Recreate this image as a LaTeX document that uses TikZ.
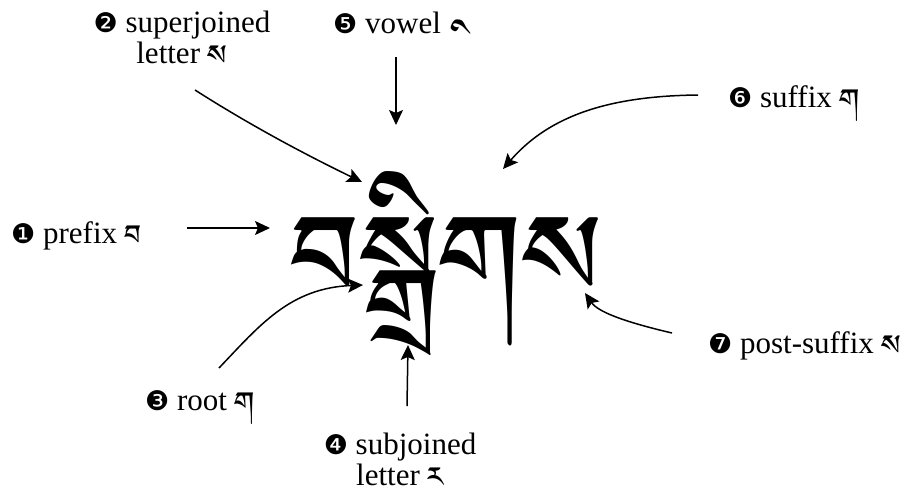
\documentclass[tikz,border=0pt]{standalone}
\usepackage{fontspec}
\setmainfont{Liberation Serif}
\newfontfamily\dingfont{DejaVu Sans}
\IfFontExistsTF{Tibetan Machine Uni}{%
  \newfontfamily\tibfont[Script=Tibetan]{Tibetan Machine Uni}}{%
  \IfFontExistsTF{Jomolhari}{%
    \newfontfamily\tibfont[Script=Tibetan]{Jomolhari}}{%
    \IfFontExistsTF{Qomolangma-Uchen Sarchen}{%
      \newfontfamily\tibfont[Script=Tibetan]{Qomolangma-Uchen Sarchen}}{%
      \newfontfamily\tibfont{DejaVu Sans}}}}
\usetikzlibrary{arrows.meta}
\newcommand{\circnum}[1]{{\dingfont\fontsize{27}{27}\selectfont #1}}
\newcommand{\tibl}[1]{{\tibfont\fontsize{36}{36}\selectfont\raisebox{-9pt}{#1}}}
\newcommand{\tibmark}[1]{{\tibfont\fontsize{48}{48}\selectfont\hspace{18pt}\raisebox{-37pt}{\char"00A0#1}}}

\begin{document}
\begin{tikzpicture}[x=1pt,y=-1pt,
  font=\fontsize{31}{31}\selectfont,
  >={Stealth[length=15pt,width=14pt,inset=3pt]},
  lab/.style={inner sep=0pt, align=center},
  arr/.style={draw=black, line width=1.5pt, ->},
]
\useasboundingbox (0,0) rectangle (911,490);
% ---------------- the word ----------------
\node[inner sep=0pt, anchor=base west, font=\tibfont\fontsize{146}{146}\selectfont] (word) at (290,325) {བསྒྲིགས};
% ---------------- labels ----------------
\node[lab, anchor=base west] (lpre) at (11,243) {\circnum{❶} prefix \tibl{བ}};
\node[lab, anchor=base] (lsup) at (182,63) {\circnum{❷} superjoined\\letter \tibl{ས}};
\node[lab, anchor=base west] (lvow) at (333,33) {\circnum{❺} vowel\tibmark{ི}};
\node[lab, anchor=base west] (lsuf) at (728,107) {\circnum{❻} suffix \tibl{ག}};
\node[lab, anchor=base west] (lroot) at (145,410) {\circnum{❸} root \tibl{ག}};
\node[lab, anchor=base] (lsub) at (400,485) {\circnum{❹} subjoined\\letter \tibl{ར}};
\node[lab, anchor=base west] (lpost) at (708,353) {\circnum{❼} post-suffix \tibl{ས}};
% ---------------- arrow ends ----------------
\coordinate (spre) at (187,228);  \coordinate (tpre) at (270,228);
\coordinate (ssup) at (195,90);   \coordinate (tsup) at (362,182);
\coordinate (svow) at (396,57);   \coordinate (tvow) at (396,125);
\coordinate (ssuf) at (698,95);   \coordinate (tsuf) at (503,169);
\coordinate (sroot) at (219,368); \coordinate (troot) at (363,285);
\coordinate (ssub) at (407,406);  \coordinate (tsub) at (408,345);
\coordinate (spost) at (672,333); \coordinate (tpost) at (585,293);
\draw[arr] (spre) -- (tpre);
\draw[arr] (ssup) .. controls (245,122) and (300,152) .. (tsup);
\draw[arr] (svow) -- (tvow);
\draw[arr] (ssuf) .. controls (610,96) and (550,115) .. (tsuf);
\draw[arr] (sroot) .. controls (260,325) and (290,288) .. (troot);
\draw[arr] (ssub) -- (tsub);
\draw[arr] (spost) .. controls (625,322) and (598,312) .. (tpost);
\end{tikzpicture}
\end{document}
